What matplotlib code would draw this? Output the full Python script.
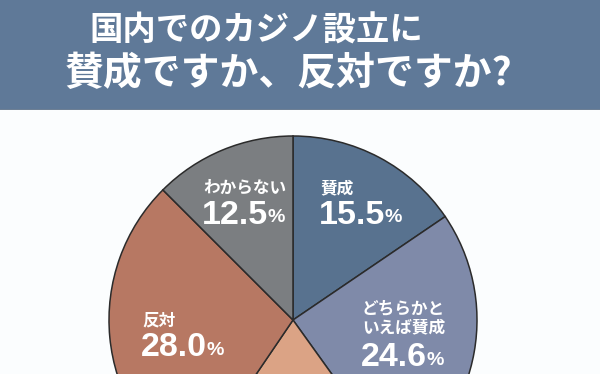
import matplotlib
matplotlib.use("Agg")
import matplotlib.pyplot as plt
from matplotlib.patches import Rectangle

plt.rcParams['font.family'] = ['Noto Sans CJK JP', 'DejaVu Sans']

title_lines = ["国内でのカジノ設立に", "賛成ですか、反対ですか?"]
categories = ["賛成", "どちらかと\nいえば賛成", "どちらかといえば反対", "反対", "わからない"]
values = [15.5, 24.6, 19.4, 28.0, 12.5]
colors = ["#58728f", "#7f8aa9", "#dba385", "#b77863", "#7b7e81"]

W, H = 600, 374
fig = plt.figure(figsize=(W / 100, H / 100), dpi=100)
fig.patch.set_facecolor("#fbfdfe")

def fx(x):
    return x / W

def fy(y):
    return 1 - y / H

# pie axes: center (293, 320) px, radius 184 px
cx, cy, r = 293, 320, 184
ax = fig.add_axes([fx(cx - r), fy(cy + r), 2 * r / W, 2 * r / H])
ax.pie(values, colors=colors, startangle=90, counterclock=False,
       wedgeprops=dict(edgecolor="#2b2b2b", linewidth=1.1))
ax.set_xlim(-1, 1)
ax.set_ylim(-1, 1)
ax.set_aspect("equal")
ax.axis("off")

# banner
banner = Rectangle((0, fy(109)), 1, 1 - fy(109), transform=fig.transFigure,
                   facecolor="#5f7998", edgecolor="none", zorder=5)
fig.add_artist(banner)
fig.add_artist(Rectangle((0, fy(110)), 1, 1 / H, transform=fig.transFigure,
                         facecolor="#6d7f94", edgecolor="none", zorder=5))
fig.text(fx(256), fy(31), title_lines[0], fontsize=24, color="white",
         fontweight="bold", ha="center", va="center", zorder=6)
fig.text(fx(289), fy(73), title_lines[1], fontsize=28, color="white",
         fontweight="bold", ha="center", va="center", zorder=6)

# labels: (category index, x, name center y, number center y)
label_pos = {0: (320, 188, 215), 1: (362, 318, 358), 3: (142, 320, 348), 4: (203, 188, 215)}
numfont = ['Liberation Sans', 'DejaVu Sans']
for i, (x, yname, ynum) in label_pos.items():
    fig.text(fx(x), fy(yname), categories[i], fontsize=12, color="white",
             fontweight="bold", ha="left", va="center", linespacing=1.05)
    t = fig.text(fx(x - 1), fy(ynum), f"{values[i]:.1f}", fontsize=24.5, color="white",
                 fontweight="bold", ha="left", va="center", family=numfont)
    ax.annotate("%", xy=(1, 0.14), xycoords=t, xytext=(-0.5, 0), textcoords="offset points",
                fontsize=14, color="white", fontweight="bold", ha="left", va="bottom",
                family=numfont)

fig.savefig("out.png", dpi=100, facecolor=fig.get_facecolor())
